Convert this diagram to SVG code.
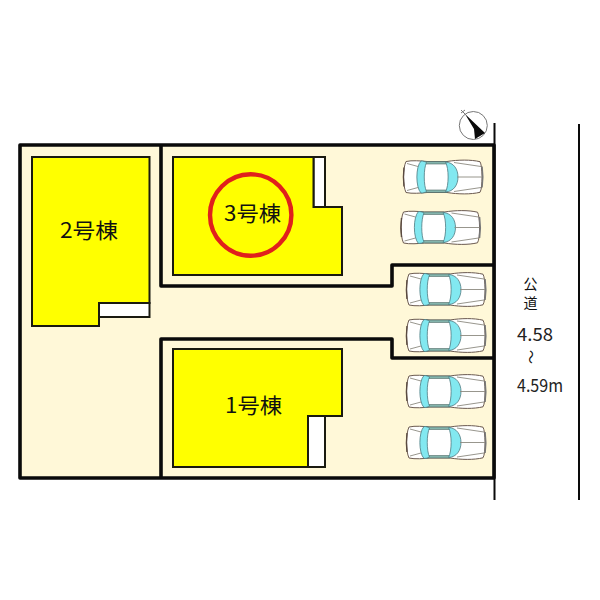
<svg xmlns="http://www.w3.org/2000/svg" width="600" height="600" viewBox="0 0 600 600">
<style>
.b{fill:#ffff00;stroke:#1a1a10;stroke-width:2}
.w{fill:#fff;stroke:#1a1a10;stroke-width:2}
.wall{fill:none;stroke:#0a0a0a;stroke-width:3.6;stroke-linejoin:round}
.road{fill:none;stroke:#0a0a0a;stroke-width:2}
.lbl{font-family:"Noto Sans CJK JP","DejaVu Sans",sans-serif;font-size:21px;fill:#111}
.sm{font-family:"Noto Sans CJK JP","DejaVu Sans",sans-serif;font-size:14px;fill:#111}
.num{font-family:"Noto Sans CJK JP","DejaVu Sans",sans-serif;font-size:18px;fill:#222}
.c1{fill:#fff;stroke:#6b5a50;stroke-width:1}
.c2{fill:#82e8f0;stroke:#4f7a80;stroke-width:.8}
.c3{fill:#84b4ac;stroke:#4d6a66;stroke-width:.6}
.c4{fill:none;stroke:#8c8a80;stroke-width:.9}
</style>
<defs>
<g id="car">
<path class="c1" d="M3,2 C9,.6 18,1.4 24,2 L44,2 C55,.2 68,0 77,2.2 C79.5,6 80,28 77,32.8 C68,35 55,34.8 44,33 L24,33 C18,33.6 9,34.4 3,33 C-.3,26 -.3,9 3,2 Z"/>
<path d="M1,8 C.3,14 .3,21 1,27" fill="none" stroke="#5a4a40" stroke-width="1.4"/>
<path d="M79,7 C80,14 80,21 79,28" fill="none" stroke="#777" stroke-width="1.6"/>
<path class="c3" d="M20,2 L44,2 L44,4.500 L20,4.500 Z"/>
<path class="c3" d="M20,30.500 L44,30.500 L44,33 L20,33 Z"/>
<path class="c2" d="M18,1.500 C12.500,7 12.500,28 18,33.500 C20,33.500 22,33 23.500,32 C20.500,26 20.500,9 23.500,3 C22,2 20,1.500 18,1.500 Z"/>
<path class="c2" d="M42.500,2.500 C46,9 46,26 42.500,32.500 C51,32 55,25 55,17.500 C55,10 51,3 42.500,2.500 Z"/>
<path class="c4" d="M54,17.500 L79,17.500 M51,3 L78,7 M51,32 L78,28 M4,4 L15,7 M4,31 L15,28"/>
</g>
</defs>
<rect width="600" height="600" fill="#fff"/>
<rect x="20" y="145" width="474" height="333" fill="#fff8d8"/>
<g id="building-2">
<rect class="w" x="99" y="303" width="50.500" height="14"/>
<path class="b" d="M32,157 H149.500 V303 H99 V326 H32 Z"/>
<text class="lbl" x="60" y="238" textLength="58" lengthAdjust="spacingAndGlyphs">2号棟</text>
</g>
<g id="building-3">
<rect class="w" x="313.500" y="157" width="11.500" height="50"/>
<path class="b" d="M173,157 H313.500 V207 H342 V275 H173 Z"/>
<text class="lbl" x="224" y="221" textLength="57" lengthAdjust="spacingAndGlyphs">3号棟</text>
<circle cx="250.700" cy="215" r="40.700" fill="none" stroke="#e0201c" stroke-width="4.400"/>
</g>
<g id="building-1">
<rect class="w" x="308" y="416" width="17" height="51"/>
<path class="b" d="M173,349 H342 V416 H308 V467 H173 Z"/>
<text class="lbl" x="225" y="413" textLength="57" lengthAdjust="spacingAndGlyphs">1号棟</text>
</g>
<g id="connectors">
<rect class="wall" x="20" y="145" width="474" height="333"/>
<path class="wall" d="M161,145 V286 H392 V265 H494"/>
<path class="wall" d="M161,478 V339 H392 V358 H494"/>
<path class="road" d="M494.500,123 V500"/>
<path class="road" d="M579,124 V500"/>
</g>
<g id="cars">
<use href="#car" x="403" y="159.500"/>
<use href="#car" x="400.500" y="210"/>
<use href="#car" x="406" y="272"/>
<use href="#car" x="406" y="318"/>
<use href="#car" x="406" y="374"/>
<use href="#car" x="406" y="425"/>
</g>
<g id="north">
<circle cx="473.300" cy="125.500" r="14" fill="#fff" stroke="#777" stroke-width="1"/>
<path d="M465,114 L485,133 L475,139 L474,129 Z" fill="#0a0a0a"/>
<path d="M461,110 L466,115 M461,113 L465,110" fill="none" stroke="#777" stroke-width="1"/>
</g>
<g id="road-label">
<text class="sm" x="530.500" y="289" text-anchor="middle">公</text>
<text class="sm" x="530.500" y="308" text-anchor="middle">道</text>
<text class="num" x="517" y="341" textLength="36" lengthAdjust="spacingAndGlyphs">4.58</text>
<text class="sm" transform="translate(526,357) rotate(90)" text-anchor="middle">～</text>
<text class="num" x="517" y="392" textLength="46" lengthAdjust="spacingAndGlyphs">4.59m</text>
</g>
</svg>
